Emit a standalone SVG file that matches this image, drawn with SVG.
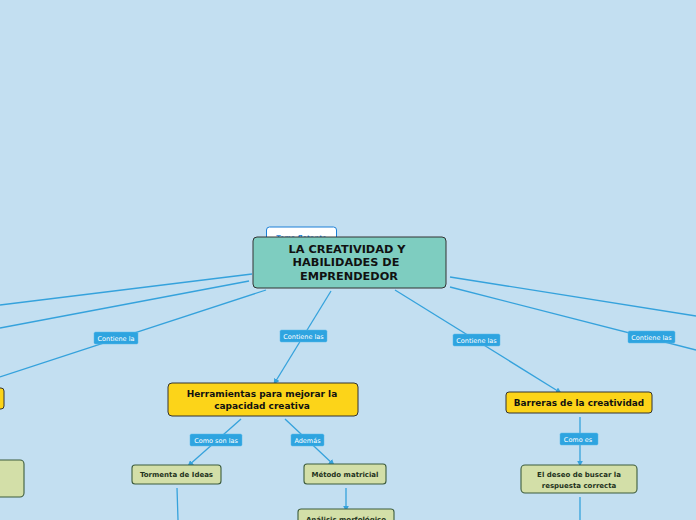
<svg xmlns="http://www.w3.org/2000/svg" width="696" height="520" viewBox="0 0 696 520">
<style>
.c{stroke:#35a2dc;stroke-width:1.3;fill:none}
.lb rect{fill:#2ea4e0;stroke:#5bb8ea;stroke-width:0.5}
.lb text{fill:#fff;font-family:"DejaVu Sans",sans-serif;font-size:6.5px;text-anchor:middle}
.y rect{fill:#fcd419;stroke:#333;stroke-width:1}
.g rect{fill:#d3dfa8;stroke:#3d5c3d;stroke-width:1.1}
.t{font-family:"DejaVu Sans",sans-serif;font-weight:bold;text-anchor:middle;fill:#111}
.gt{font-family:"DejaVu Sans",sans-serif;font-weight:bold;text-anchor:middle;fill:#1f3320;font-size:7px}
</style>
<defs>
<marker id="a" viewBox="0 0 10 10" refX="9" refY="5" markerWidth="6" markerHeight="6" orient="auto" markerUnits="userSpaceOnUse">
<path d="M0,0L10,5L0,10z" fill="#35a2dc"/>
</marker>
</defs>
<rect width="696" height="520" fill="#c3dff1"/>
<g id="connectors">
<line class="c" x1="252" y1="274" x2="0" y2="305"/>
<line class="c" x1="249" y1="281" x2="0" y2="328"/>
<line class="c" x1="266" y1="290" x2="0" y2="377"/>
<line class="c" x1="331" y1="291" x2="274" y2="384" marker-end="url(#a)"/>
<line class="c" x1="395" y1="290" x2="561" y2="393" marker-end="url(#a)"/>
<line class="c" x1="450" y1="287" x2="696" y2="350"/>
<line class="c" x1="450" y1="277" x2="696" y2="316"/>
<line class="c" x1="241" y1="419" x2="188" y2="466" marker-end="url(#a)"/>
<line class="c" x1="285" y1="419" x2="334" y2="465" marker-end="url(#a)"/>
<line class="c" x1="177" y1="488" x2="178" y2="520"/>
<line class="c" x1="346" y1="488" x2="346" y2="511" marker-end="url(#a)"/>
<line class="c" x1="580" y1="417" x2="580" y2="466" marker-end="url(#a)"/>
<line class="c" x1="580" y1="497" x2="580" y2="520"/>
<g class="lb"><rect x="94" y="332" width="44" height="12" rx="1.5"/><text x="116" y="340.5">Contiene la</text></g>
<g class="lb"><rect x="280" y="330" width="47" height="12" rx="1.5"/><text x="303.5" y="338.5">Contiene las</text></g>
<g class="lb"><rect x="453" y="334" width="47" height="12" rx="1.5"/><text x="476.5" y="342.5">Contiene las</text></g>
<g class="lb"><rect x="628" y="331" width="47" height="12" rx="1.5"/><text x="651.5" y="339.5">Contiene las</text></g>
<g class="lb"><rect x="190" y="434" width="52" height="12" rx="1.5"/><text x="216" y="442.5">Como son las</text></g>
<g class="lb"><rect x="291" y="434" width="33" height="12" rx="1.5"/><text x="307.5" y="442.5">Además</text></g>
<g class="lb"><rect x="560" y="433" width="38" height="12" rx="1.5"/><text x="578" y="441.5">Como es</text></g>
</g>
<g id="floating">
<rect x="266.5" y="227" width="70" height="20" rx="3" fill="#fff" stroke="#1a7fd6" stroke-width="1"/>
<text x="301.5" y="239.5" font-family="DejaVu Sans,sans-serif" font-size="6.5" font-weight="bold" fill="#1a7fd6" text-anchor="middle">Tema flotante</text>
</g>
<g id="main">
<rect x="253" y="237" width="193" height="51" rx="4" fill="#7ecdc0" stroke="#333" stroke-width="1"/>
<text class="t" font-size="11.3"><tspan x="347" y="252.5">LA CREATIVIDAD Y</tspan><tspan x="346" y="266">HABILIDADES DE</tspan><tspan x="349" y="279.5">EMPRENDEDOR</tspan></text>
</g>
<g id="left-yellow" class="y"><rect x="-60" y="388" width="64" height="21" rx="3"/></g>
<g id="left-green" class="g"><rect x="-60" y="460" width="84" height="37" rx="4"/></g>
<g id="herramientas" class="y">
<rect x="168" y="383" width="190" height="33" rx="4"/>
<text class="t" font-size="9"><tspan x="262" y="397">Herramientas para mejorar la</tspan><tspan x="262" y="408.5">capacidad creativa</tspan></text>
</g>
<g id="barreras" class="y">
<rect x="506" y="392" width="146" height="21" rx="3"/>
<text class="t" font-size="8.9" x="579" y="405.5">Barreras de la creatividad</text>
</g>
<g id="tormenta" class="g">
<rect x="132" y="465" width="89" height="19" rx="3"/>
<text class="gt" x="176.5" y="477">Tormenta de Ideas</text>
</g>
<g id="metodo" class="g">
<rect x="304" y="464" width="82" height="20" rx="3"/>
<text class="gt" x="345" y="477">Método matricial</text>
</g>
<g id="analisis" class="g">
<rect x="298" y="509" width="96" height="22" rx="3"/>
<text class="gt" x="346" y="522">Análisis morfológico</text>
</g>
<g id="deseo" class="g">
<rect x="521" y="465" width="116" height="28" rx="4"/>
<text class="gt"><tspan x="579" y="477">El deseo de buscar la</tspan><tspan x="579" y="487.5">respuesta correcta</tspan></text>
</g>
</svg>
